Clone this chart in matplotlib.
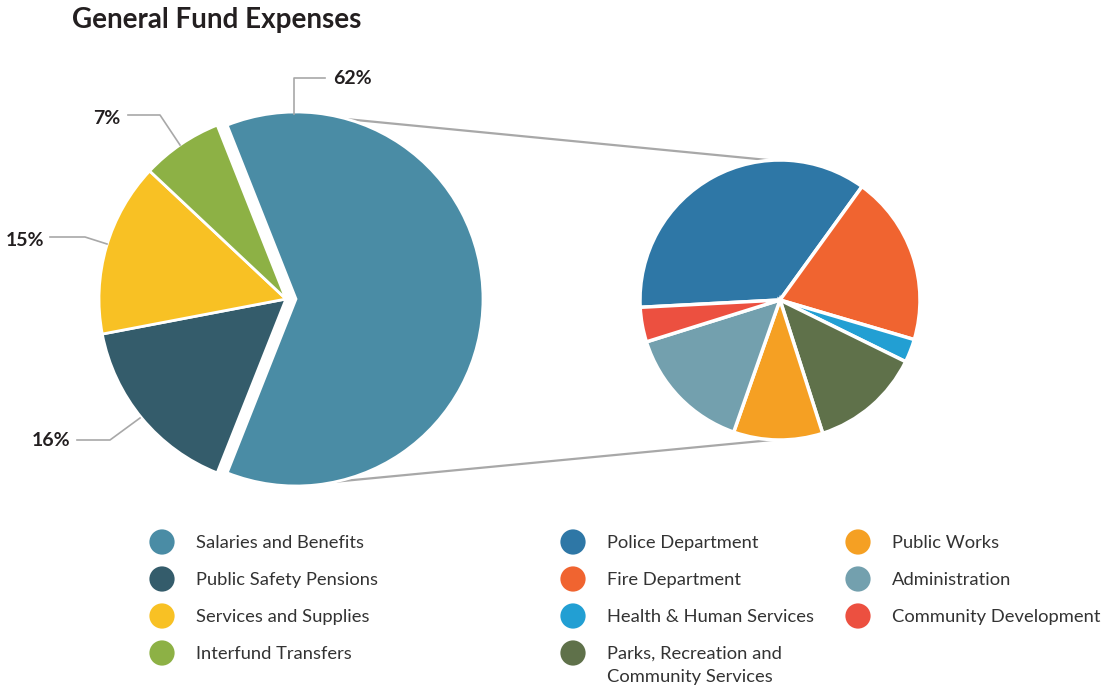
import matplotlib.pyplot as plt

# main fund split
main_labels = ['Salaries and Benefits', 'Public Safety Pensions',
               'Services and Supplies', 'Interfund Transfers']
main_values = [62, 16, 15, 7]
main_colors = ['#4a8ca5', '#345c6b', '#f8c124', '#8db145']

# breakdown of salaries and benefits by department
dept_labels = ['Police Department', 'Fire Department', 'Health & Human Services',
               'Parks, Recreation and\nCommunity Services', 'Public Works',
               'Administration', 'Community Development']
dept_values = [35.8, 19.6, 2.7, 12.8, 10.3, 14.8, 4.0]
dept_colors = ['#2e77a6', '#f06430', '#229fd3', '#5f714a', '#f5a023',
               '#73a0ae', '#ec5040']

plt.rcParams['font.family'] = ['Lato', 'DejaVu Sans']

W, H = 1104, 693
fig = plt.figure(figsize=(W / 100, H / 100), dpi=100)
ax = fig.add_axes([0, 0, 1, 1])

def py(y):
    return H - y

# left pie (salaries slice pulled out)
c1 = (286, py(299))
r1 = 187
ax.pie(main_values, colors=main_colors, startangle=111.6, counterclock=False,
       center=c1, radius=r1, explode=[10, 0, 0, 0],
       wedgeprops=dict(edgecolor='white', linewidth=2), frame=True)

# right pie
c2 = (780, py(300))
r2 = 140
ax.pie(dept_values, colors=dept_colors, startangle=183, counterclock=False,
       center=c2, radius=r2,
       wedgeprops=dict(edgecolor='white', linewidth=2.5), frame=True)
ax.set_xlim(0, W)
ax.set_ylim(0, H)
ax.set_aspect('equal')
ax.axis('off')

# connector lines
gray = '#a8a8a8'
ax.plot([294, 778], [py(114), py(161)], color=gray, lw=1.6, zorder=0)
ax.plot([322, 772], [py(483), py(440)], color=gray, lw=1.6, zorder=0)

# percentage labels with leaders (62, 7, 15, 16)
leaders = [
    ([294, 294, 325], [114, 78, 78], 333, 78, 'left'),
    ([180, 160, 128], [145, 115, 115], 120, 118, 'right'),
    ([107, 85, 50], [244, 237, 237], 44, 240, 'right'),
    ([140, 110, 77], [418, 440, 440], 70, 441, 'right'),
]
ord_vals = [main_values[0], main_values[3], main_values[2], main_values[1]]
for (xs, ys, tx, ty, ha), v in zip(leaders, ord_vals):
    ax.plot(xs, [py(y) for y in ys], color=gray, lw=1.2)
    ax.text(tx, py(ty), f'{v}%', ha=ha, va='center', fontsize=14,
            fontweight='bold', color='#231f20')

# title
ax.text(72, py(20), 'General Fund Expenses', ha='left', va='center',
        fontsize=20, fontweight='bold', color='#231f20')

# legend
rows = [542, 579, 616, 653]
legend_items = []
for i, (lab, col) in enumerate(zip(main_labels, main_colors)):
    legend_items.append((162, rows[i], lab, col))
for i in range(4):
    legend_items.append((573, rows[i], dept_labels[i], dept_colors[i]))
for i in range(4, 7):
    legend_items.append((858, rows[i - 4], dept_labels[i], dept_colors[i]))

for x, y, lab, col in legend_items:
    ax.scatter([x], [py(y)], s=330, color=col, edgecolor='none')
    ax.text(x + 34, py(y) + 7, lab, ha='left', va='top', fontsize=13.2,
            color='#333333', linespacing=1.55)

fig.savefig('out.png', dpi=100)
